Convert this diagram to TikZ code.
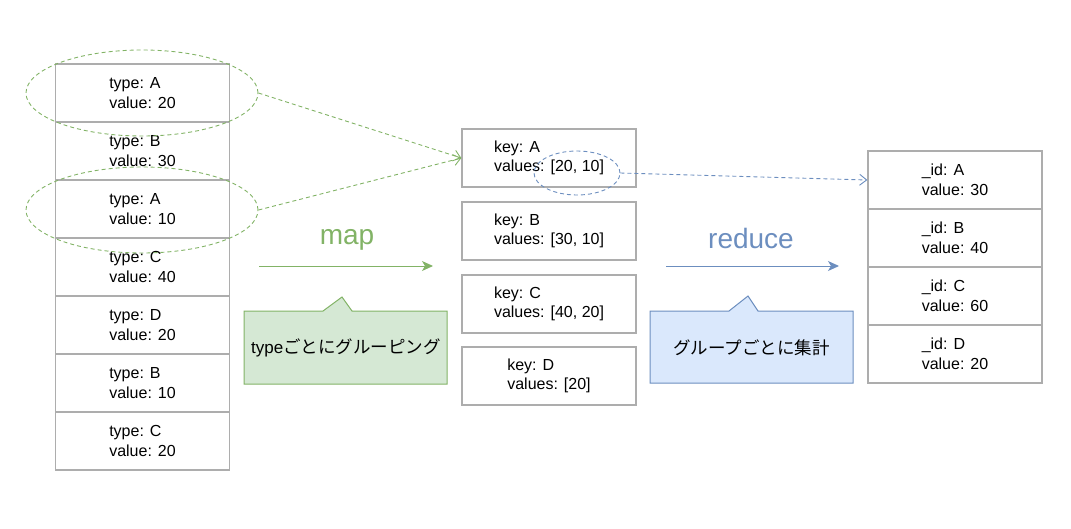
\documentclass[tikz,border=0pt]{standalone}
\usepackage{fontspec}
\setmainfont{Liberation Sans}
\newfontfamily\cjk{Noto Sans CJK JP}
\usetikzlibrary{arrows.meta,shapes.geometric}
\definecolor{gline}{HTML}{82B366}
\definecolor{gfill}{HTML}{D5E8D4}
\definecolor{bline}{HTML}{6C8EBF}
\definecolor{bfill}{HTML}{DAE8FC}
\definecolor{boxline}{HTML}{ADADAD}
\begin{document}
\begin{tikzpicture}[x=1pt,y=-1pt,
  rec/.style={draw=boxline, line width=1.3pt, minimum width=174pt, minimum height=58pt,
    inner sep=0pt, align=left, font=\fontsize{16}{19.5}\selectfont},
  gell/.style={ellipse, draw=gline, dash pattern=on 4pt off 3pt, line width=0.9pt,
    minimum width=232pt, minimum height=86pt, inner sep=0pt},
  bell/.style={ellipse, draw=bline, dash pattern=on 4pt off 3pt, line width=0.9pt,
    minimum width=86pt, minimum height=44pt, inner sep=0pt},
  gdash/.style={draw=gline, dash pattern=on 4pt off 3pt, line width=0.9pt,
    -{Straight Barb[length=7pt,width=11pt]}},
  bdash/.style={draw=bline, dash pattern=on 4pt off 3pt, line width=0.9pt,
    -{Straight Barb[length=7pt,width=11pt]}},
  garrow/.style={draw=gline, line width=1pt, -{Stealth[length=11pt,width=10pt,inset=3pt]}},
  barrow/.style={draw=bline, line width=1pt, -{Stealth[length=11pt,width=10pt,inset=3pt]}},
  biglabel/.style={font=\fontsize{28}{32}\selectfont},
  calltext/.style={inner sep=0pt},
]
\useasboundingbox (0,0) rectangle (1071,528);

% left column
\node[rec] (t1) at (142.5,93)  {type: A\\value: 20};
\node[rec] (t2) at (142.5,151) {type: B\\value: 30};
\node[rec] (t3) at (142.5,209) {type: A\\value: 10};
\node[rec] (t4) at (142.5,267) {type: C\\value: 40};
\node[rec] (t5) at (142.5,325) {type: D\\value: 20};
\node[rec] (t6) at (142.5,383) {type: B\\value: 10};
\node[rec] (t7) at (142.5,441) {type: C\\value: 20};

% middle column
\node[rec] (kA) at (549,158) {key: A\\values: [20, 10]};
\node[rec] (kB) at (549,231) {key: B\\values: [30, 10]};
\node[rec] (kC) at (549,304) {key: C\\values: [40, 20]};
\node[rec] (kD) at (549,376) {key: D\\values: [20]};

% right column
\node[rec] (iA) at (955,180) {\_id: A\\value: 30};
\node[rec] (iB) at (955,238) {\_id: B\\value: 40};
\node[rec] (iC) at (955,296) {\_id: C\\value: 60};
\node[rec] (iD) at (955,354) {\_id: D\\value: 20};

% ellipses
\node[gell] (e1) at (142,93) {};
\node[gell] (e2) at (142,210) {};
\node[bell] (eb) at (577,173) {};

% dashed connectors
\draw[gdash] (e1.east) -- (kA.west);
\draw[gdash] (e2.east) -- (kA.west);
\draw[bdash] (eb.east) -- (iA.west);

% map / reduce arrows
\coordinate (m1) at (259,266);
\coordinate (m2) at (433,266);
\coordinate (r1) at (666,266);
\coordinate (r2) at (839,266);
\draw[garrow] (m1) -- (m2);
\draw[barrow] (r1) -- (r2);
\node[biglabel, text=gline] (mapl) at (347,240) {map};
\node[biglabel, text=bline] (redl) at (751,238) {reduce};

% callouts
\draw[draw=gline, fill=gfill, line width=1pt]
  (244,311) -- (323,311) -- (342,297) -- (352,311) -- (447,311) -- (447,384) -- (244,384) -- cycle;
\node[calltext] (gc) at (346,348) {\fontsize{17}{20}\selectfont type\cjk\fontsize{17.5}{22}\selectfont ごとにグルーピング};
\draw[draw=bline, fill=bfill, line width=1pt]
  (650,311) -- (729,311) -- (748,296) -- (758,311) -- (853,311) -- (853,383) -- (650,383) -- cycle;
\node[calltext] (bc) at (751.5,348) {\cjk\fontsize{17.5}{22}\selectfont グループごとに集計};
\end{tikzpicture}
\end{document}
